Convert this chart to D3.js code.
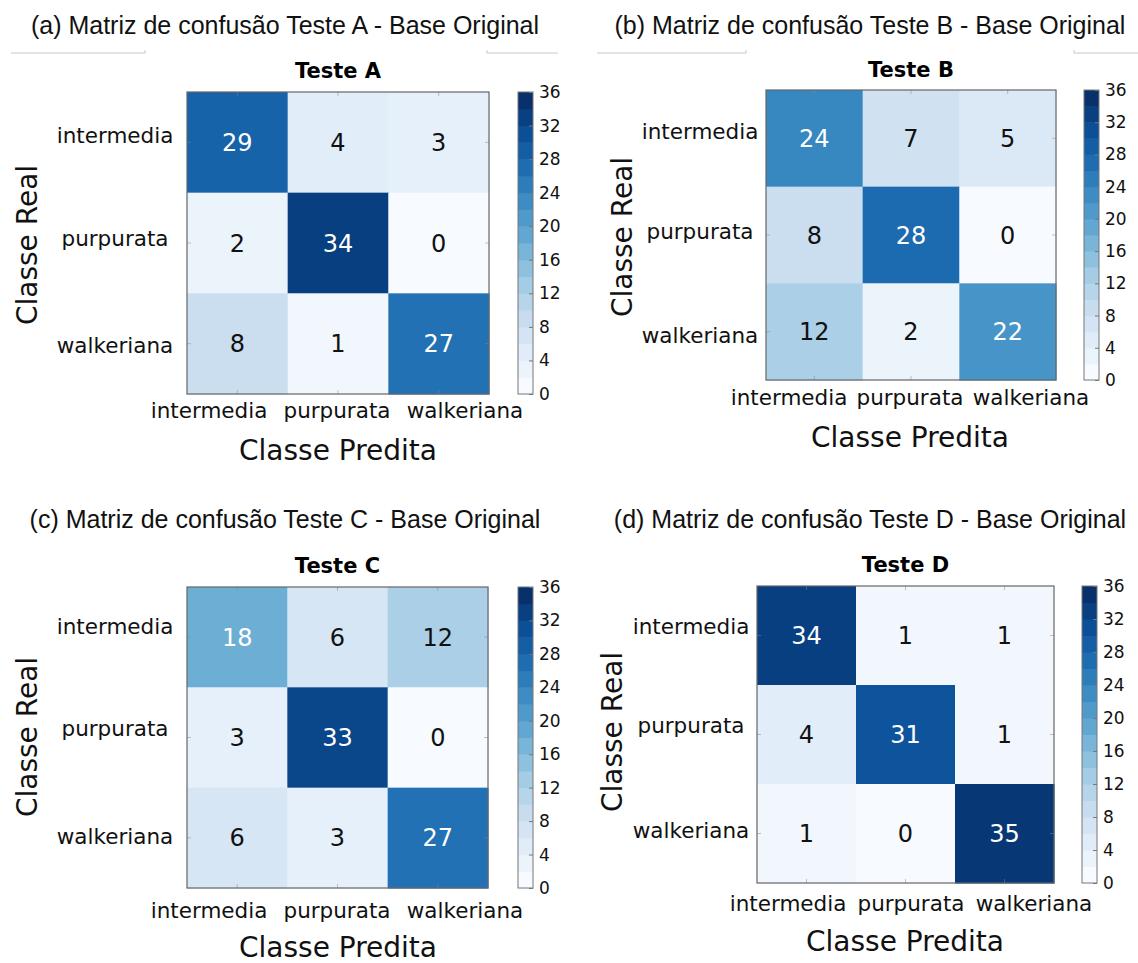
<!DOCTYPE html>
<html>
<head>
<meta charset="utf-8">
<script src="https://cdn.jsdelivr.net/npm/d3@7"></script>
<style>
  body { margin: 0; background: #fff; }
  svg { display: block; }
</style>
</head>
<body>
<div id="chart"></div>
<script>
// data
const classes = ["intermedia", "purpurata", "walkeriana"];
const testeA = [[29, 4, 3], [2, 34, 0], [8, 1, 27]];
const testeB = [[24, 7, 5], [8, 28, 0], [12, 2, 22]];
const testeC = [[18, 6, 12], [3, 33, 0], [6, 3, 27]];
const testeD = [[34, 1, 1], [4, 31, 1], [1, 0, 35]];
const titles = ["Teste A", "Teste B", "Teste C", "Teste D"];
const captions = [
    "(a) Matriz de confusão Teste A - Base Original",
    "(b) Matriz de confusão Teste B - Base Original",
    "(c) Matriz de confusão Teste C - Base Original",
    "(d) Matriz de confusão Teste D - Base Original"
];
const xLabel = "Classe Predita";
const yLabel = "Classe Real";
const cbMax = 36;
const cbTicks = [0, 4, 8, 12, 16, 20, 24, 28, 32, 36];

const matrices = [testeA, testeB, testeC, testeD];

// layout of each panel (pixels)
const panels = [
    {x0: 187, y0: 92, size: 302, cap: [285, 34], lines: [[11, 145], [487, 558]], lineY: 53,
     titleY: 78, cbX: 518, yLabX: 115, ySpread: 105, yLabOff: -3, xLabC: 337, xSpread: 128, xLabY: 418,
     xTitle: [338, 460], yTitle: [27, 245]},
    {x0: 766, y0: 90, size: 290, cap: [870, 34], lines: [[597, 746], [1074, 1138]], lineY: 53,
     titleY: 77, cbX: 1084, yLabX: 700, ySpread: 102, yLabOff: -2, xLabC: 910, xSpread: 121, xLabY: 405,
     xTitle: [910, 447], yTitle: [622, 237]},
    {x0: 187, y0: 587, size: 301, cap: [285, 528], lines: null,
     titleY: 573, cbX: 518, yLabX: 115, ySpread: 105, yLabOff: -7, xLabC: 337, xSpread: 128, xLabY: 918,
     xTitle: [338, 957], yTitle: [27, 737]},
    {x0: 757, y0: 586, size: 297, cap: [870, 528], lines: null,
     titleY: 572, cbX: 1082, yLabX: 691, ySpread: 102, yLabOff: -7, xLabC: 911, xSpread: 123, xLabY: 911,
     xTitle: [905, 951], yTitle: [612, 732]}
];

const W = 1138, H = 963;
const svg = d3.select("#chart").append("svg")
    .attr("width", W)
    .attr("height", H)
    .style("font-family", "'DejaVu Sans', sans-serif");

const color = d3.scaleSequential(d3.interpolateBlues).domain([0, cbMax]);

// matplotlib centres labels on their ink box, so words with descenders sit higher
const inkDy = d => /[pgqyj]/.test(d) ? "0.26em" : "0.38em";

panels.forEach((p, k) => {
    let data = matrices[k];
    let maxV = d3.max(data.flat());
    let cells = [];
    data.forEach((row, i) => row.forEach((v, j) => cells.push({i: i, j: j, v: v})));

    // caption
    svg.append("text")
        .attr("x", p.cap[0])
        .attr("y", p.cap[1])
        .attr("text-anchor", "middle")
        .style("font-family", "'Liberation Sans', Arial, sans-serif")
        .style("font-size", "25px")
        .attr("fill", "#111")
        .text(captions[k]);

    if (p.lines) {
        p.lines.forEach((l, n) => {
            svg.append("line")
                .attr("x1", l[0]).attr("x2", l[1])
                .attr("y1", p.lineY).attr("y2", p.lineY)
                .attr("stroke", "#c8c8c8").attr("stroke-width", 1);
            let tx = n === 0 ? l[1] : l[0];
            svg.append("line")
                .attr("x1", tx).attr("x2", tx)
                .attr("y1", p.lineY - 3).attr("y2", p.lineY)
                .attr("stroke", "#c8c8c8").attr("stroke-width", 1);
        });
    }

    let g = svg.append("g").attr("transform", `translate(${p.x0},${p.y0})`);

    let x = d3.scaleBand().domain(d3.range(3)).range([0, p.size]);
    let y = d3.scaleBand().domain(d3.range(3)).range([0, p.size]);

    // title
    g.append("text")
        .attr("x", p.size / 2)
        .attr("y", p.titleY - p.y0)
        .attr("text-anchor", "middle")
        .style("font-size", "21px")
        .style("font-weight", "bold")
        .text(titles[k]);

    // cells
    g.selectAll("rect.cell").data(cells).join("rect")
        .attr("class", "cell")
        .attr("x", d => x(d.j))
        .attr("y", d => y(d.i))
        .attr("width", x.bandwidth() + 0.5)
        .attr("height", y.bandwidth() + 0.5)
        .attr("fill", d => color(d.v));

    g.selectAll("text.val").data(cells).join("text")
        .attr("class", "val")
        .attr("x", d => x(d.j) + x.bandwidth() / 2)
        .attr("y", d => y(d.i) + y.bandwidth() / 2)
        .attr("text-anchor", "middle")
        .attr("dy", "0.36em")
        .style("font-size", "24px")
        .attr("fill", d => d.v > maxV / 2 ? "#fff" : "#111")
        .text(d => d.v);

    // inward ticks
    d3.range(3).forEach(n => {
        let c = x(n) + x.bandwidth() / 2;
        [[c, 0, c, 4], [c, p.size, c, p.size - 4], [0, c, 4, c], [p.size, c, p.size - 4, c]].forEach(t => {
            g.append("line")
                .attr("x1", t[0]).attr("y1", t[1]).attr("x2", t[2]).attr("y2", t[3])
                .attr("stroke", "#888").attr("stroke-opacity", 0.5);
        });
    });

    g.append("rect")
        .attr("width", p.size).attr("height", p.size)
        .attr("fill", "none")
        .attr("stroke", "#666").attr("stroke-width", 1.2);

    // tick labels
    let xl = d3.scalePoint().domain(classes).range([p.xLabC - p.xSpread - p.x0, p.xLabC + p.xSpread - p.x0]);
    let yl = d3.scalePoint().domain(classes).range([p.size / 2 - p.ySpread + p.yLabOff, p.size / 2 + p.ySpread + p.yLabOff]);

    g.selectAll("text.xt").data(classes).join("text")
        .attr("class", "xt")
        .attr("x", d => xl(d))
        .attr("y", p.xLabY - p.y0)
        .attr("text-anchor", "middle")
        .style("font-size", "21.5px")
        .attr("fill", "#111")
        .text(d => d);

    g.selectAll("text.yt").data(classes).join("text")
        .attr("class", "yt")
        .attr("x", p.yLabX - p.x0)
        .attr("y", d => yl(d))
        .attr("dy", inkDy)
        .attr("text-anchor", "middle")
        .style("font-size", "21.5px")
        .attr("fill", "#111")
        .text(d => d);

    // axis titles
    svg.append("text")
        .attr("x", p.xTitle[0])
        .attr("y", p.xTitle[1])
        .attr("text-anchor", "middle")
        .style("font-size", "28px")
        .attr("fill", "#111")
        .text(xLabel);

    svg.append("text")
        .attr("transform", `translate(${p.yTitle[0]},${p.yTitle[1]}) rotate(-90)`)
        .attr("text-anchor", "middle")
        .attr("dy", "0.36em")
        .style("font-size", "28px")
        .attr("fill", "#111")
        .text(yLabel);

    // colorbar
    let cb = svg.append("g").attr("transform", `translate(${p.cbX},${p.y0})`);
    let cy = d3.scaleLinear().domain([0, cbMax]).range([p.size, 0]);
    let bands = d3.range(0, cbMax, 2);
    cb.selectAll("rect.band").data(bands).join("rect")
        .attr("class", "band")
        .attr("x", 0)
        .attr("y", d => cy(d + 2))
        .attr("width", 15)
        .attr("height", cy(0) - cy(2) + 0.5)
        .attr("fill", d => color(d / (cbMax - 2) * cbMax));

    let cbAxis = cb.append("g")
        .attr("transform", "translate(15,0)")
        .call(d3.axisRight(cy).tickValues(cbTicks).tickSize(-4).tickPadding(6));
    cbAxis.select(".domain").remove();
    cbAxis.selectAll("line").attr("stroke", "#777");
    cbAxis.selectAll("text")
        .style("font-family", "'DejaVu Sans', sans-serif")
        .style("font-size", "17px")
        .attr("fill", "#111");

    cb.append("rect")
        .attr("width", 15).attr("height", p.size)
        .attr("fill", "none")
        .attr("stroke", "#777").attr("stroke-width", 1);
});
</script>
</body>
</html>
